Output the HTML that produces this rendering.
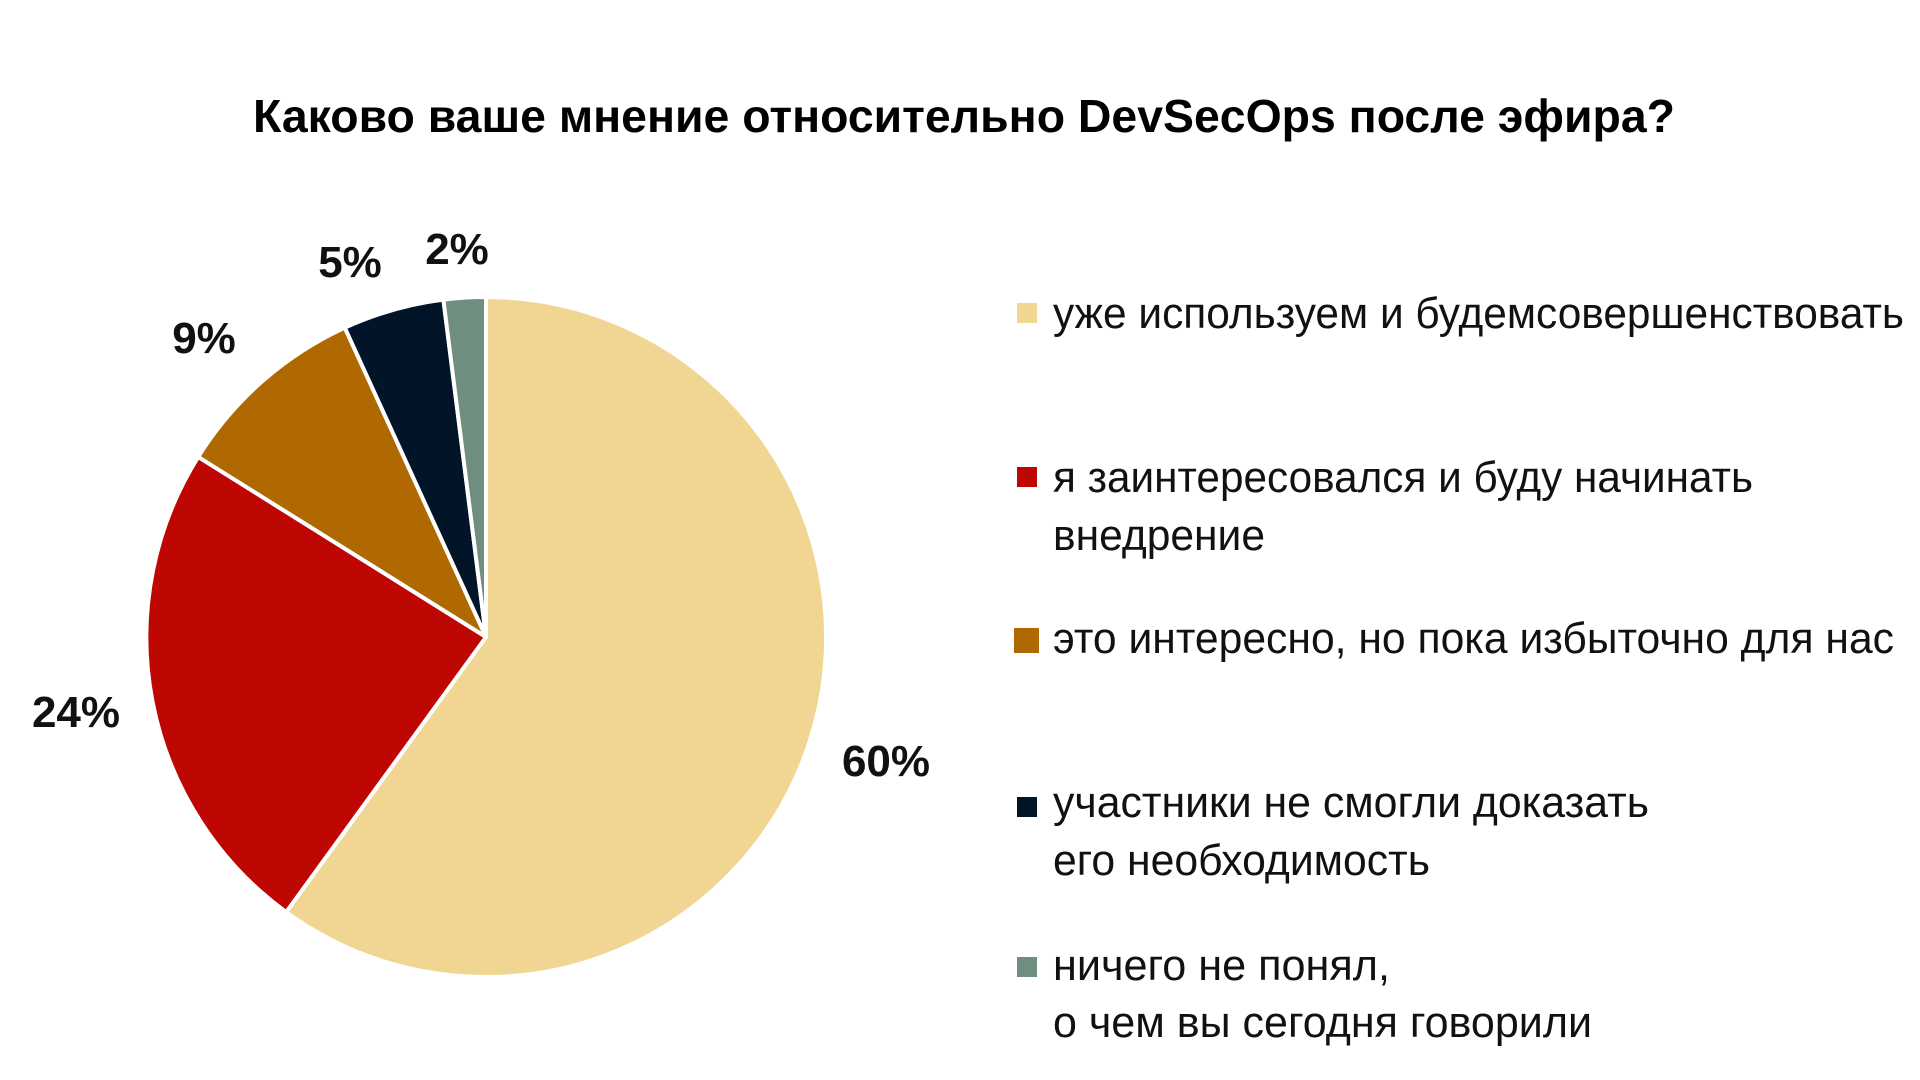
<!DOCTYPE html>
<html><head><meta charset="utf-8"><style>html,body{margin:0;padding:0;background:#fff}svg{display:block}</style></head>
<body>
<svg width="1920" height="1080" viewBox="0 0 1920 1080" xmlns="http://www.w3.org/2000/svg" font-family="'Liberation Sans', 'DejaVu Sans', sans-serif">
<rect width="1920" height="1080" fill="#fff"/>
<text x="253" y="132" font-size="46" font-weight="bold" fill="#000" textLength="1422" lengthAdjust="spacingAndGlyphs">Каково ваше мнение относительно DevSecOps после эфира?</text>
<g stroke="#fff" stroke-width="4" stroke-linejoin="round">
<path d="M486,637 L486,297 A340,340 0 1 1 286.2,912.1 Z" fill="#F1D592"/>
<path d="M486,637 L286.2,912.1 A340,340 0 0 1 198.2,456.9 Z" fill="#BE0702"/>
<path d="M486,637 L198.2,456.9 A340,340 0 0 1 344.8,327.7 Z" fill="#B06800"/>
<path d="M486,637 L344.8,327.7 A340,340 0 0 1 443.4,299.7 Z" fill="#021528"/>
<path d="M486,637 L443.4,299.7 A340,340 0 0 1 486,297 Z" fill="#6F8E80"/>
</g>
<g font-size="44" font-weight="bold" fill="#111" text-anchor="middle">
<text x="886" y="776">60%</text>
<text x="76" y="727">24%</text>
<text x="204" y="353">9%</text>
<text x="350" y="277">5%</text>
<text x="457" y="264">2%</text>
</g>
<rect x="1017" y="303" width="20" height="20" fill="#F1D592"/>
<rect x="1017" y="467" width="20" height="20" fill="#BE0702"/>
<rect x="1014" y="628" width="25" height="25" fill="#B06800"/>
<rect x="1017" y="797" width="20" height="20" fill="#021528"/>
<rect x="1017" y="957" width="20" height="20" fill="#6F8E80"/>
<g font-size="44" fill="#111" lengthAdjust="spacingAndGlyphs">
<text x="1053" y="328" textLength="851" lengthAdjust="spacingAndGlyphs">уже используем и будемсовершенствовать</text>
<text x="1053" y="492" textLength="700" lengthAdjust="spacingAndGlyphs">я заинтересовался и буду начинать</text>
<text x="1053" y="550" textLength="212" lengthAdjust="spacingAndGlyphs">внедрение</text>
<text x="1053" y="653" textLength="841" lengthAdjust="spacingAndGlyphs">это интересно, но пока избыточно для нас</text>
<text x="1053" y="817" textLength="596" lengthAdjust="spacingAndGlyphs">участники не смогли доказать</text>
<text x="1053" y="875" textLength="377" lengthAdjust="spacingAndGlyphs">его необходимость</text>
<text x="1053" y="980" textLength="337" lengthAdjust="spacingAndGlyphs">ничего не понял,</text>
<text x="1053" y="1037" textLength="539" lengthAdjust="spacingAndGlyphs">о чем вы сегодня говорили</text>
</g>
</svg>
</body></html>
